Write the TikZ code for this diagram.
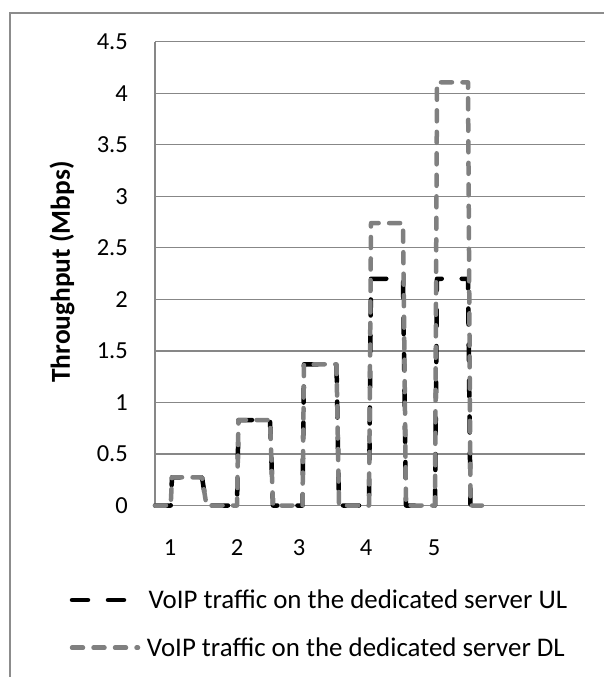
\documentclass[tikz,border=0pt]{standalone}
\usepackage{fontspec}
\setmainfont{Carlito}
\begin{document}
\begin{tikzpicture}[x=1pt,y=-1pt,
  frameline/.style={draw=black!45, line width=2pt},
  gridline/.style={draw=black!47, line width=1.3pt},
  ticklbl/.style={inner sep=0pt, font=\fontsize{24.5}{28}\selectfont},
  titlelbl/.style={inner sep=0pt, rotate=90, font=\fontsize{27.4}{30}\selectfont\bfseries},
  legendlbl/.style={inner sep=0pt, anchor=base west, font=\fontsize{26.9}{30}\selectfont},
  ulline/.style={draw=black, line width=4.5pt, line cap=round, line join=round, dash pattern=on 16pt off 20pt},
  dlline/.style={draw=black!50, line width=4.5pt, line cap=round, line join=round, dash pattern=on 11pt off 10.5pt}]
\useasboundingbox (0,0) rectangle (604,677);
\fill[white] (0,0) rectangle (604,677);
% outer frame
\draw[frameline] (10,680) -- (10,12.7) -- (606,12.7);
% grid lines
\foreach \k/\yy in {1/453.97,2/402.43,3/350.9,4/299.36,5/247.83,6/196.3,7/144.76,8/93.2,9/41.7}
  \draw[gridline] (155,\yy) -- (585,\yy);
\draw[gridline] (155,41.7) -- (155,505.5) -- (585,505.5);
% y tick labels
\foreach \lab/\yy in {0/505.5,0.5/453.97,1/402.43,1.5/350.9,2/299.36,2.5/247.83,3/196.3,3.5/144.76,4/93.2,4.5/41.7}
  \node[ticklbl, anchor=east] (y\lab) at (128,\yy) {\lab};
% x tick labels
\foreach \lab/\xx in {1/170,2/237,3/299,4/366,5/434}
  \node[ticklbl] (x\lab) at (\xx,548) {\lab};
% axis title
\node[titlelbl] (ytitle) at (62,272) {Throughput (Mbps)};
% UL series
\draw[ulline] (155,505.5) -- (170.7,505.5) -- (172,477.3) -- (202,477.3) -- (206.5,505.5)
  -- (237,505.5) -- (238.5,420) -- (270,420) -- (273,505.5)
  -- (302.5,505.5) -- (304,364.3) -- (336.5,364.3) -- (339,505.5)
  -- (369,505.5) -- (371,278.75) -- (403,278.75) -- (406,505.5)
  -- (435,505.5) -- (437,278.75) -- (468,278.75) -- (470.5,505.5) -- (482,505.5);
% DL series
\draw[dlline] (155,505.5) -- (170.7,505.5) -- (172,477.3) -- (202,477.3) -- (206.5,505.5)
  -- (237,505.5) -- (238.5,420) -- (270,420) -- (273,505.5)
  -- (302.5,505.5) -- (304,364.3) -- (336.5,364.3) -- (339,505.5)
  -- (369,505.5) -- (371,223.1) -- (403,223.1) -- (406,505.5)
  -- (435,505.5) -- (437,82.3) -- (468,82.3) -- (470.5,505.5) -- (482,505.5);
% legend
\coordinate (ula) at (72,600);
\coordinate (ulb) at (124,600);
\coordinate (dla) at (72,647.7);
\coordinate (dlb) at (138,647.7);
\draw[ulline] (ula) -- (ulb);
\draw[dlline] (dla) -- (dlb);
\node[legendlbl] (ultext) at (148.3,608.5) {VoIP traffic on the dedicated server UL};
\node[legendlbl] (dltext) at (146.7,656.2) {VoIP traffic on the dedicated server DL};
\end{tikzpicture}
\end{document}
